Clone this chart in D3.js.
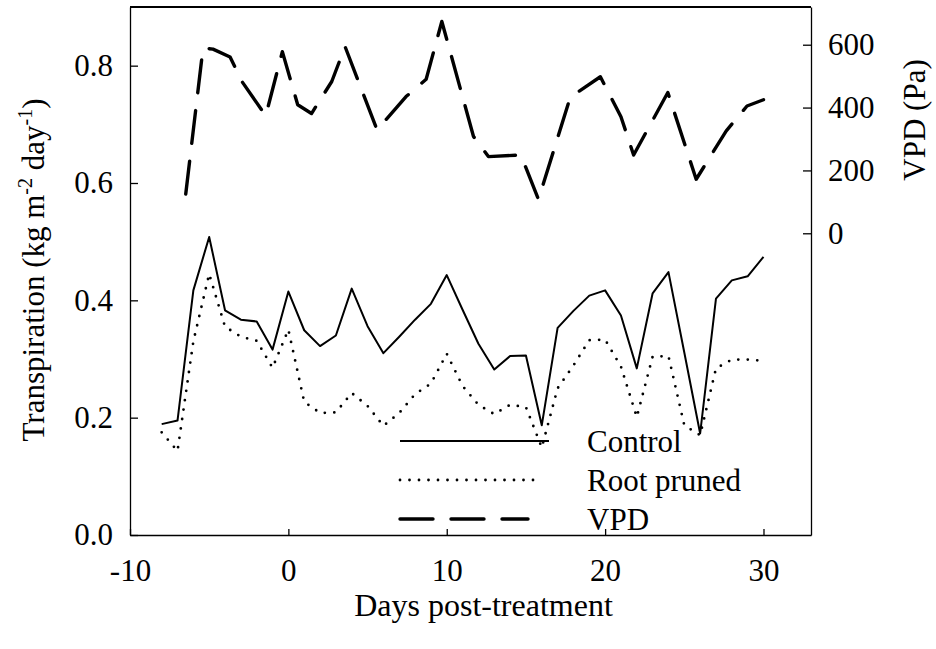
<!DOCTYPE html>
<html>
<head>
<meta charset="utf-8">
<script src="https://cdn.jsdelivr.net/npm/d3@7"></script>
<style>
  body { margin: 0; background: #fff; }
  text { font-family: "Liberation Serif", "Times New Roman", serif; fill: #000; }
</style>
</head>
<body>
<svg id="chart" width="936" height="649"></svg>
<script>
// days post-treatment (transpiration series)
const days = [-8, -7, -6, -5, -4, -3, -2, -1, 0, 1, 2, 3, 4, 5, 6, 7, 8, 9, 10, 11,
              12, 13, 14, 15, 16, 17, 18, 19, 20, 21, 22, 23, 24, 25, 26, 27, 28, 29, 30];
const control = [0.189, 0.195, 0.417, 0.508, 0.383, 0.367, 0.364, 0.316, 0.415, 0.349,
                 0.322, 0.340, 0.420, 0.356, 0.310, 0.338, 0.367, 0.394, 0.443, 0.384,
                 0.326, 0.282, 0.305, 0.306, 0.187, 0.353, 0.382, 0.408, 0.417, 0.374,
                 0.284, 0.412, 0.448, 0.311, 0.173, 0.403, 0.434, 0.441, 0.474];
const rootPruned = [0.175, 0.143, 0.330, 0.445, 0.355, 0.338, 0.331, 0.285, 0.350, 0.227,
                    0.208, 0.209, 0.242, 0.220, 0.186, 0.208, 0.240, 0.258, 0.309, 0.254,
                    0.222, 0.206, 0.222, 0.218, 0.149, 0.250, 0.289, 0.332, 0.333, 0.287,
                    0.201, 0.304, 0.305, 0.187, 0.170, 0.284, 0.299, 0.299, 0.297];
// VPD series (Pa), own x positions
const vpdDays = [-6.48, -5.39, -4.76, -3.68, -2.92, -1.43, -0.38, 0.59, 1.46, 2.74, 3.58, 5.6,
                 7.43, 8.7, 9.69, 11.69, 12.63, 14.68, 15.79, 17.8, 19.7, 21.0, 21.8, 23.96,
                 25.75, 27.65, 28.96, 30.0];
const vpd = [125, 589, 586, 561, 482, 374, 578, 409, 381, 483, 594, 329,
             435, 490, 674, 308, 244, 249, 108, 433, 498, 371, 249, 448,
             172, 326, 405, 425];

const xTicks = [-10, 0, 10, 20, 30];
const leftTicks = [0, 0.2, 0.4, 0.6, 0.8];
const rightTicks = [0, 200, 400, 600];
const legendLabels = ["Control", "Root pruned", "VPD"];

let svg = d3.select("#chart");
let plot = {left: 130, right: 811, top: 7, bottom: 535};
const FONT = "'Liberation Serif', 'Times New Roman', serif";

let x = d3.scaleLinear().domain([-10, 33]).range([plot.left, plot.right]);
let yL = d3.scaleLinear().domain([0, 0.9]).range([plot.bottom, plot.top]);
let yR = d3.scaleLinear().domain([-960, 720]).range([plot.bottom, plot.top]);

let styles = {
    solid: {width: 2, dash: null, cap: "butt"},
    dotted: {width: 2.8, dash: "0,9.5", cap: "round"},
    dashed: {width: 3.4, dash: "33,18", cap: "round"}
};
let applyStyle = (sel, s) => sel
    .attr("fill", "none")
    .attr("stroke", "#000")
    .attr("stroke-width", s.width)
    .attr("stroke-dasharray", s.dash)
    .attr("stroke-linecap", s.cap)
    .attr("stroke-linejoin", "round");

// top frame
svg.append("line")
    .attr("x1", plot.left).attr("x2", plot.right)
    .attr("y1", plot.top).attr("y2", plot.top)
    .attr("stroke", "#000").attr("stroke-width", 2);

let styleAxis = (g) => {
    g.attr("font-family", FONT).attr("font-size", 31);
    g.selectAll("text").style("font-family", FONT).style("font-size", "31px");
    g.selectAll("line").attr("stroke", "#000").attr("stroke-width", 1.3);
    g.select(".domain").attr("stroke", "#000").attr("stroke-width", 1.3);
};

svg.append("g")
    .attr("transform", `translate(0, ${plot.bottom})`)
    .call(d3.axisBottom(x).tickValues(xTicks).tickFormat((d) => String(d))
        .tickSizeInner(-6).tickSizeOuter(0).tickPadding(24))
    .call(styleAxis);

svg.append("g")
    .attr("transform", `translate(${plot.left}, 0)`)
    .call(d3.axisLeft(yL).tickValues(leftTicks).tickFormat((d) => d.toFixed(1))
        .tickSizeInner(-8).tickSizeOuter(0).tickPadding(17))
    .call(styleAxis);

svg.append("g")
    .attr("transform", `translate(${plot.right}, 0)`)
    .call(d3.axisRight(yR).tickValues(rightTicks).tickFormat((d) => String(d))
        .tickSizeInner(-8).tickSizeOuter(0).tickPadding(17))
    .call(styleAxis);

// series
let lineL = d3.line().x((d) => x(d[0])).y((d) => yL(d[1]));
let lineR = d3.line().x((d) => x(d[0])).y((d) => yR(d[1]));

svg.append("path").datum(days.map((d, i) => [d, rootPruned[i]]))
    .attr("d", lineL).call(applyStyle, styles.dotted);
svg.append("path").datum(days.map((d, i) => [d, control[i]]))
    .attr("d", lineL).call(applyStyle, styles.solid);
svg.append("path").datum(vpdDays.map((d, i) => [d, vpd[i]]))
    .attr("d", lineR).call(applyStyle, styles.dashed);

// legend
let legend = svg.append("g");
let legendStyles = [styles.solid, styles.dotted, styles.dashed];
let legendEnds = [549, 541, 528];
legendLabels.forEach((label, i) => {
    let ly = 441 + i * 39;
    legend.append("line")
        .attr("x1", 400).attr("x2", legendEnds[i])
        .attr("y1", ly).attr("y2", ly)
        .call(applyStyle, legendStyles[i]);
    legend.append("text")
        .attr("x", 587).attr("y", ly + 11)
        .style("font-family", FONT)
        .style("font-size", "31px")
        .text(label);
});

// axis titles
svg.append("text")
    .attr("x", (plot.left + plot.right) / 2 + 13).attr("y", 616)
    .attr("text-anchor", "middle")
    .style("font-family", FONT)
    .style("font-size", "32px")
    .text("Days post-treatment");

let yTitle = svg.append("text")
    .attr("transform", `translate(44, 270) rotate(-90)`)
    .attr("text-anchor", "middle")
    .style("font-family", FONT)
    .style("font-size", "31px");
yTitle.append("tspan").text("Transpiration (kg m");
yTitle.append("tspan").attr("dy", -12).style("font-size", "20px").text("-2");
yTitle.append("tspan").attr("dy", 12).text(" day");
yTitle.append("tspan").attr("dy", -12).style("font-size", "20px").text("-1");
yTitle.append("tspan").attr("dy", 12).text(")");

svg.append("text")
    .attr("transform", `translate(925, 120) rotate(-90)`)
    .attr("text-anchor", "middle")
    .style("font-family", FONT)
    .style("font-size", "31px")
    .text("VPD (Pa)");
</script>
</body>
</html>
